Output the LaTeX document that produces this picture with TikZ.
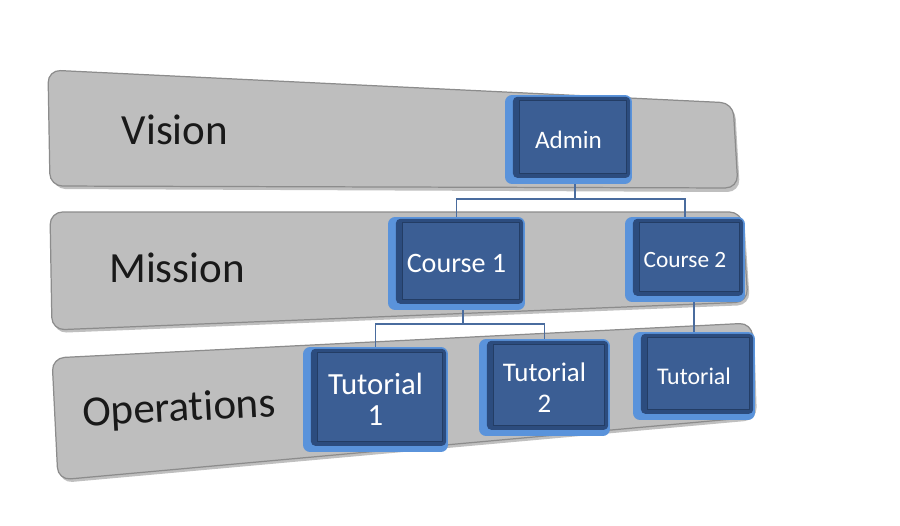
\documentclass[tikz,border=0pt]{standalone}
\usepackage{fontspec}
\setmainfont{Carlito}[Ligatures=NoCommon]
\definecolor{bandgray}{HTML}{BEBEBE}
\definecolor{bandedge}{HTML}{8C8C8C}
\definecolor{tilelight}{HTML}{5A93DB}
\definecolor{tiledark}{HTML}{2C4C7E}
\definecolor{tileface}{HTML}{3B5E94}
\definecolor{linkblue}{HTML}{4A6C9E}
\begin{document}
\begin{tikzpicture}[x=0.02cm, y=-0.02cm,
  band/.style={fill=bandgray, draw=bandedge, line width=0.7pt, rounded corners=2.5mm},
  bandshadow/.style={fill=black!25, rounded corners=2.5mm},
  level/.style={font=\fontsize{24.5}{28}\selectfont, text=black!90},
  tile/.style={fill=tilelight, rounded corners=4pt, text=white, align=center, inner sep=0pt,
    path picture={
      \fill[tiledark, rounded corners=2.5pt] ([shift={(4.5pt,-1pt)}]path picture bounding box.north west)
        rectangle ([shift={(-1pt,3.5pt)}]path picture bounding box.south east);
      \fill[tileface, draw=tiledark!80!black, line width=0.5pt, sharp corners] ([shift={(8pt,-3.2pt)}]path picture bounding box.north west)
        rectangle ([shift={(-3.2pt,6.2pt)}]path picture bounding box.south east);
    }},
  link/.style={draw=linkblue, line width=0.7pt}]
  \useasboundingbox (0,0) rectangle (900,525);
  \fill[bandshadow] (50,73) -- (735,106) -- (740,192) -- (53,189) -- cycle;
  \draw[band] (48,70) -- (733,103) -- (738,188) -- (50,186) -- cycle;
  \fill[bandshadow] (52,215) -- (744,215) -- (750,305) -- (54,333) -- cycle;
  \draw[band] (50,212) -- (742,212) -- (748,302) -- (52,330) -- cycle;
  \fill[bandshadow] (54,361) -- (754,326) -- (757,420) -- (60,483) -- cycle;
  \draw[band] (52,358) -- (752,323) -- (755,417) -- (58,480) -- cycle;
  \node[level] (vision) at (175,130) {Vision};
  \node[level] (mission) at (177,268) {Mission};
  \node[level, rotate=3] (ops) at (179,410) {Operations};
  \node[tile, minimum width=2.54cm, minimum height=1.78cm, font=\fontsize{14.3}{17}\selectfont] (admin) at (568.5,139.5) {Admin};
  \node[tile, minimum width=2.74cm, minimum height=1.86cm, font=\fontsize{16}{19}\selectfont] (course1) at (456.5,263.5) {Course 1};
  \node[tile, minimum width=2.4cm, minimum height=1.7cm, font=\fontsize{13.3}{16}\selectfont] (course2) at (685,259.5) {Course 2};
  \node[tile, minimum width=2.9cm, minimum height=2.1cm, font=\fontsize{17.5}{18}\selectfont] (tut1) at (375.5,399.5) {Tutorial\\1};
  \node[tile, minimum width=2.62cm, minimum height=1.94cm, font=\fontsize{15.3}{18}\selectfont] (tut2) at (544.5,387.5) {Tutorial\\2};
  \node[tile, minimum width=2.44cm, minimum height=1.76cm, font=\fontsize{13.6}{16}\selectfont] (tut3) at (694,376) {Tutorial};
  \coordinate (j1) at (575,199);
  \coordinate (j2) at (463,324);
  \draw[link] (admin.south -| j1) -- (j1) -| (course1.north);
  \draw[link] (j1) -| (course2.north);
  \draw[link] (course1.south -| j2) -- (j2) -| (tut1.north);
  \draw[link] (j2) -| (tut2.north);
  \draw[link] (course2.south -| tut3.north) -- (tut3.north);
\end{tikzpicture}
\end{document}
